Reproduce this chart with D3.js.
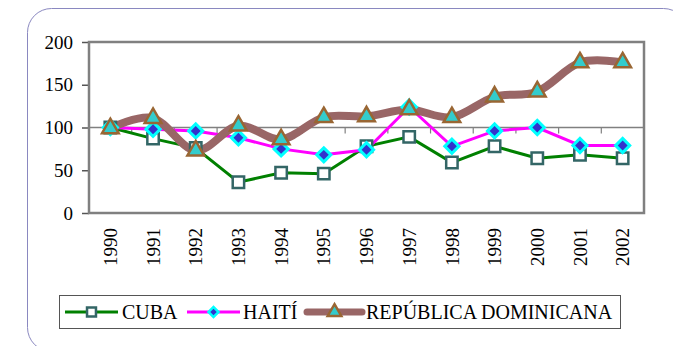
<html>
<head>
<meta charset="utf-8">
<style>
  body { margin: 0; background: #fff; }
</style>
</head>
<body>
<svg id="container" width="673" height="346"></svg>
<script src="https://cdn.jsdelivr.net/npm/d3@7"></script>
<script>
  // chart data
  let years = ["1990", "1991", "1992", "1993", "1994", "1995", "1996", "1997", "1998", "1999", "2000", "2001", "2002"]
  let cuba = [100, 87, 76, 36, 47, 46, 78, 89, 59, 78, 64, 68, 64]
  let haiti = [100, 98, 96, 88, 75, 68, 74, 124, 78, 96, 100, 79, 79]
  let repDom = [99, 111, 73, 102, 86, 112, 113, 121, 112, 136, 142, 176, 176]
  let yTicks = [0, 50, 100, 150, 200]
  let seriesNames = ["CUBA", "HAITÍ", "REPÚBLICA DOMINICANA"]

  let serif = "'Liberation Serif', 'DejaVu Serif', serif"
  let svg = d3.select("#container")

  // rounded outer frame
  svg.append("rect")
    .attr("x", 27.5).attr("y", 8.5)
    .attr("width", 660).attr("height", 343)
    .attr("rx", 24).attr("ry", 24)
    .attr("fill", "none")
    .attr("stroke", "#8a88c0")
    .attr("stroke-width", 1)

  let plotLeft = 89, plotRight = 644, plotTop = 42, plotBottom = 213

  let x = d3.scaleBand().domain(years).range([plotLeft, plotRight])
  let y = d3.scaleLinear().domain([0, 200]).range([plotBottom, plotTop])
  let cx = d => x(d) + x.bandwidth() / 2

  // y axis
  let yAxis = d3.axisLeft(y).tickValues(yTicks).tickSize(7).tickPadding(9)
  let gy = svg.append("g").attr("transform", `translate(${plotLeft},0)`).call(yAxis)
  gy.attr("font-family", serif).attr("font-size", 19)
  gy.select(".domain").remove()
  gy.selectAll("line").attr("stroke", "#555").attr("stroke-width", 1.5)
  gy.selectAll("text").attr("fill", "#000")

  // category axis crossing at 100
  let y100 = y(100)
  svg.append("line")
    .attr("x1", plotLeft).attr("x2", plotRight)
    .attr("y1", y100).attr("y2", y100)
    .attr("stroke", "#808080").attr("stroke-width", 1.5)
  let bounds = years.map(d => x(d)).concat([plotRight])
  svg.selectAll(".xtick")
    .data(bounds)
    .enter().append("line")
    .attr("x1", d => d).attr("x2", d => d)
    .attr("y1", y100).attr("y2", y100 + 6)
    .attr("stroke", "#808080").attr("stroke-width", 1.2)

  // rotated year labels at bottom
  svg.selectAll(".xlab")
    .data(years)
    .enter().append("text")
    .attr("transform", d => `translate(${cx(d)},228) rotate(-90)`)
    .attr("text-anchor", "end")
    .attr("dy", "0.35em")
    .attr("font-family", serif)
    .attr("font-size", 19)
    .text(d => d)

  // plot frame
  svg.append("rect")
    .attr("x", plotLeft).attr("y", plotTop)
    .attr("width", plotRight - plotLeft).attr("height", plotBottom - plotTop)
    .attr("fill", "none")
    .attr("stroke", "#808080")
    .attr("stroke-width", 2.5)

  // lines
  let straight = d3.line().x((d, i) => cx(years[i])).y(d => y(d))
  let smooth = d3.line().x((d, i) => cx(years[i])).y(d => y(d)).curve(d3.curveCardinal.tension(0))

  svg.append("path").attr("d", straight(cuba))
    .attr("fill", "none").attr("stroke", "#008000").attr("stroke-width", 3)
  svg.append("path").attr("d", straight(haiti))
    .attr("fill", "none").attr("stroke", "#ff00ff").attr("stroke-width", 3)
  svg.append("path").attr("d", smooth(repDom))
    .attr("fill", "none").attr("stroke", "#996666").attr("stroke-width", 8)
    .attr("stroke-linejoin", "round").attr("stroke-linecap", "round")

  // markers
  let square = d3.symbol().type(d3.symbolSquare).size(130)
  let diamond = d3.symbol().type(d3.symbolSquare).size(100)
  let triangle = d3.symbol().type(d3.symbolTriangle).size(120)

  svg.selectAll(".mc").data(cuba).enter().append("path")
    .attr("d", square)
    .attr("transform", (d, i) => `translate(${cx(years[i])},${y(d)})`)
    .attr("fill", "#fff").attr("stroke", "#336666").attr("stroke-width", 2.5)

  svg.selectAll(".mh").data(haiti).enter().append("path")
    .attr("d", diamond)
    .attr("transform", (d, i) => `translate(${cx(years[i])},${y(d)}) rotate(45)`)
    .attr("fill", "#3333cc").attr("stroke", "#00ffff").attr("stroke-width", 3)

  svg.selectAll(".mr").data(repDom).enter().append("path")
    .attr("d", triangle)
    .attr("transform", (d, i) => `translate(${cx(years[i])},${y(d)})`)
    .attr("fill", "#33cccc").attr("stroke", "#996633").attr("stroke-width", 2.5)

  // legend
  let legend = svg.append("g")
  legend.append("rect")
    .attr("x", 59.5).attr("y", 295.5)
    .attr("width", 561).attr("height", 33)
    .attr("fill", "#fff").attr("stroke", "#555").attr("stroke-width", 1)

  let ly = 312
  let items = [
    { x1: 65, x2: 118, tx: 122, color: "#008000", w: 3, sym: d3.symbol().type(d3.symbolSquare).size(80), rot: 0, fill: "#fff", stroke: "#336666", sw: 2.5 },
    { x1: 187, x2: 240, tx: 243, color: "#ff00ff", w: 3, sym: d3.symbol().type(d3.symbolSquare).size(50), rot: 45, fill: "#3333cc", stroke: "#00ffff", sw: 2.5 },
    { x1: 307, x2: 362, tx: 366, color: "#996666", w: 7, sym: d3.symbol().type(d3.symbolTriangle).size(80), rot: 0, fill: "#33cccc", stroke: "#996633", sw: 2.5 }
  ]
  items.forEach((it, i) => {
    legend.append("line")
      .attr("x1", it.x1).attr("x2", it.x2).attr("y1", ly).attr("y2", ly)
      .attr("stroke", it.color).attr("stroke-width", it.w).attr("stroke-linecap", i == 2 ? "round" : "butt")
    legend.append("path")
      .attr("d", it.sym)
      .attr("transform", `translate(${(it.x1 + it.x2) / 2},${ly}) rotate(${it.rot})`)
      .attr("fill", it.fill).attr("stroke", it.stroke).attr("stroke-width", it.sw)
    legend.append("text")
      .attr("x", it.tx).attr("y", ly)
      .attr("dy", "0.35em")
      .attr("font-family", serif)
      .attr("font-size", 20)
      .attr("fill", "#000")
      .text(seriesNames[i])
  })
</script>
</body>
</html>
